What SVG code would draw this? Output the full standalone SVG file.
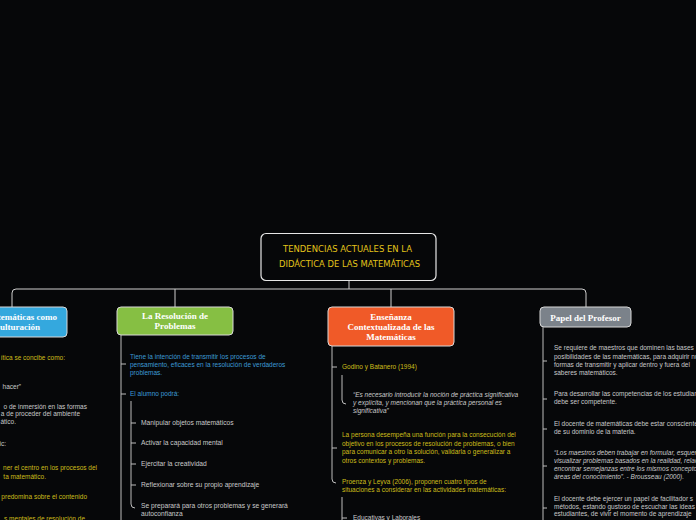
<svg xmlns="http://www.w3.org/2000/svg" width="696" height="520" viewBox="0 0 696 520">
<style>
.bg{fill:#060709}
.node{stroke:#d8d8d8;stroke-width:1}
.lbl{font-family:"Liberation Serif",serif;font-weight:bold;font-size:9px;text-anchor:middle;fill:#ffffff}
.t{font-family:"Liberation Sans",Arial,sans-serif;font-size:6.5px}
.g{font-size:6.7px}
.y{fill:#cdbd1a}
.b{fill:#3d9bd6}
.w{fill:#c9c9c9}
.i{font-style:italic}
.con{fill:none;stroke:#cfcfcf;stroke-width:1}
.sub{fill:none;stroke:#bdbdbd;stroke-width:1}
</style>
<rect class="bg" x="0" y="0" width="696" height="520"/>

<g id="connectors">
<path class="con" d="M349 280 V289"/>
<path class="con" d="M12 307 V293 Q12 289 16 289 H582 Q586 289 586 293 V307"/>
<path class="con" d="M175 289 V307"/>
<path class="con" d="M391 289 V307"/>
<path class="sub" d="M121 335 V520"/>
<path class="sub" d="M121 364 H126 M121 394 H126"/>
<path class="sub" d="M131 401 V504 Q131 508 135 508"/>
<path class="sub" d="M131 423 H136 M131 443 H136 M131 464 H136 M131 485 H136"/>
<path class="sub" d="M332 346 V479 Q332 483 336 483"/>
<path class="sub" d="M332 367 H337 M332 448 H337"/>
<path class="sub" d="M342 375 V400 Q342 404 346 404"/>
<path class="sub" d="M342 497 V520 M342 518 H347"/>
<path class="sub" d="M543 327 V520"/>
<path class="sub" d="M543 361 H547 M543 399 H547 M543 429 H547 M543 466 H547 M543 508 H547"/>
</g>

<g id="central">
<rect x="261" y="233.5" width="175" height="47" rx="5" fill="#060709" stroke="#e6e6e6" stroke-width="1.2"/>
<text x="283" y="252" font-family="DejaVu Sans, sans-serif" font-size="9.5" fill="#e3c41a" textLength="129" lengthAdjust="spacingAndGlyphs">TENDENCIAS ACTUALES EN LA</text>
<text x="279" y="267" font-family="DejaVu Sans, sans-serif" font-size="9.5" fill="#e3c41a" textLength="141" lengthAdjust="spacingAndGlyphs">DIDÁCTICA DE LAS MATEMÁTICAS</text>
</g>

<g id="node-enculturacion">
<rect class="node" x="-45" y="307" width="112" height="30" rx="4" fill="#34a8de"/>
<text class="lbl" x="57" y="320" style="text-anchor:end" fill="#d42b2b">Las Matemáticas como</text>
<text class="lbl" x="40" y="330" style="text-anchor:end" fill="#d42b2b">Enculturación</text>
<text class="t y" x="65" y="360" text-anchor="end">ítica se concibe como:</text>
<text class="t w" x="21" y="389" text-anchor="end">hacer”</text>
<text class="t w" x="87" y="409" text-anchor="end">o de inmersión en las formas</text>
<text class="t w" x="80" y="416" text-anchor="end">a de proceder del ambiente</text>
<text class="t w" x="16" y="424" text-anchor="end">ático.</text>
<text class="t w" x="6" y="446" text-anchor="end">ic:</text>
<text class="t y" x="97" y="470" text-anchor="end">ner el centro en los procesos del</text>
<text class="t y" x="46" y="479" text-anchor="end">ta matemático.</text>
<text class="t y" x="87" y="499" text-anchor="end">predomina sobre el contenido</text>
<text class="t y" x="85" y="521" text-anchor="end">s mentales de resolución de</text>
</g>

<g id="node-resolucion">
<rect class="node" x="117" y="307" width="116" height="28" rx="4" fill="#86bf43"/>
<text class="lbl" x="175" y="319">La Resolución de</text>
<text class="lbl" x="175" y="329">Problemas</text>
<text class="t b" x="130" y="359">Tiene la intención de transmitir los procesos de</text>
<text class="t b" x="130" y="367">pensamiento, eficaces en la resolución de verdaderos</text>
<text class="t b" x="130" y="375">problemas.</text>
<text class="t b" x="130" y="396">El alumno podrá:</text>
<text class="t g w" x="141" y="425">Manipular objetos matemáticos</text>
<text class="t g w" x="141" y="445">Activar la capacidad mental</text>
<text class="t g w" x="141" y="466">Ejercitar la creatividad</text>
<text class="t g w" x="141" y="487">Reflexionar sobre su propio aprendizaje</text>
<text class="t g w" x="141" y="508">Se preparará para otros problemas y se generará</text>
<text class="t g w" x="141" y="516">autoconfianza</text>
</g>

<g id="node-contextualizada">
<rect class="node" x="328" y="307" width="126" height="39" rx="4" fill="#f05a28"/>
<text class="lbl" x="391" y="320">Enseñanza</text>
<text class="lbl" x="391" y="330">Contextualizada de las</text>
<text class="lbl" x="391" y="340">Matemáticas</text>
<text class="t y" x="342" y="369">Godino y Batanero (1994)</text>
<text class="t w i" x="353" y="397">“Es necesario introducir la noción de práctica significativa</text>
<text class="t w i" x="353" y="405">y explícita, y mencionan que la práctica personal es</text>
<text class="t w i" x="353" y="413">significativa”</text>
<text class="t y" x="342" y="437">La persona desempeña una función para la consecución del</text>
<text class="t y" x="342" y="445.5">objetivo en los procesos de resolución de problemas, o bien</text>
<text class="t y" x="342" y="454">para comunicar a otro la solución, validarla o generalizar a</text>
<text class="t y" x="342" y="462.5">otros contextos y problemas.</text>
<text class="t y" x="342" y="484">Proenza y Leyva (2006), proponen cuatro tipos de</text>
<text class="t y" x="342" y="492">situaciones a considerar en las actividades matemáticas:</text>
<text class="t w" x="353" y="520">Educativas y Laborales</text>
</g>

<g id="node-profesor">
<rect class="node" x="540" y="307" width="91" height="20" rx="4" fill="#7b828a"/>
<text class="lbl" x="585.5" y="320.5">Papel del Profesor</text>
<text class="t w" x="554" y="350">Se requiere de maestros que dominen las bases</text>
<text class="t w" x="554" y="359">posibilidades de las matemáticas, para adquirir nuevas</text>
<text class="t w" x="554" y="367">formas de transmitir y aplicar dentro y fuera del</text>
<text class="t w" x="554" y="375">saberes matemáticos.</text>
<text class="t w" x="554" y="396">Para desarrollar las competencias de los estudiantes</text>
<text class="t w" x="554" y="404">debe ser competente.</text>
<text class="t w" x="554" y="426">El docente de matemáticas debe estar consciente</text>
<text class="t w" x="554" y="434">de su dominio de la materia.</text>
<text class="t w i" x="554" y="455">“Los maestros deben trabajar en formular, esquematizar</text>
<text class="t w i" x="554" y="463">visualizar problemas basados en la realidad, relacionar</text>
<text class="t w i" x="554" y="471">encontrar semejanzas entre los mismos conceptos</text>
<text class="t w i" x="554" y="479">áreas del conocimiento”. - Brousseau (2000).</text>
<text class="t w" x="554" y="501">El docente debe ejercer un papel de facilitador s</text>
<text class="t w" x="554" y="509">métodos, estando gustoso de escuchar las ideas</text>
<text class="t w" x="554" y="516">estudiantes, de vivir el momento de aprendizaje</text>
</g>
</svg>
